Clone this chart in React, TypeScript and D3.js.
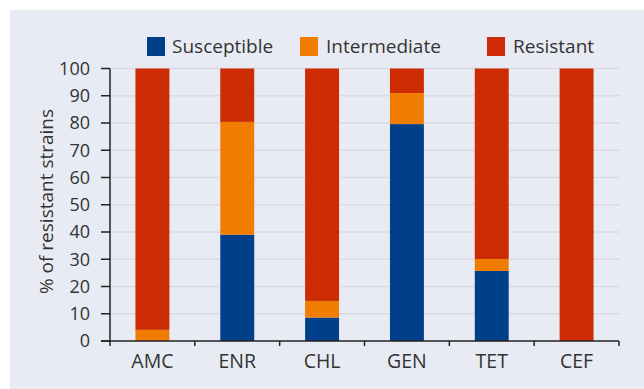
import React from "react";
import * as d3 from "d3";

const categories = ["AMC", "ENR", "CHL", "GEN", "TET", "CEF"];
const susceptible = [0, 39, 8.6, 79.6, 25.7, 0];
const intermediate = [4.1, 41.4, 6.1, 11.4, 4.4, 0];
const resistant = [95.9, 19.6, 85.3, 9.0, 69.9, 100];
const seriesNames = ["Susceptible", "Intermediate", "Resistant"];
const seriesColors = ["#00408a", "#f07c00", "#cc2b03"];
const yTicks = [0, 10, 20, 30, 40, 50, 60, 70, 80, 90, 100];

const W = 644, H = 389;
const left = 110, right = 619, top = 68.5, bottom = 341;
const font = "'Open Sans', sans-serif";
const textColor = "#333333";

export default function App() {
  const x = d3.scaleBand<string>().domain(categories).range([left, right]).paddingInner(0.6).paddingOuter(0.3);
  const y = d3.scaleLinear().domain([0, 100]).range([bottom, top]);
  const rows = categories.map((c, i) => ({ cat: c, Susceptible: susceptible[i], Intermediate: intermediate[i], Resistant: resistant[i] }));
  const stack = d3.stack<any>().keys(seriesNames)(rows);
  const step = (right - left) / categories.length;
  const tickXs = d3.range(categories.length + 1).map((i) => left + i * step);

  const legendItems = [
    { x: 147, tx: 172 },
    { x: 300, tx: 326 },
    { x: 487, tx: 513 },
  ];

  return (
    <svg width={W} height={H} style={{ position: "absolute", left: 0, top: 0, display: "block" }}>
      <rect x={0} y={0} width={W} height={H} fill="#ffffff" />
      <rect x={10} y={10} width={W - 10} height={H - 10} fill="#e9ebf4" />
      {yTicks.filter((t) => t > 0).map((t) => (
        <line key={"g" + t} x1={left} x2={right + 1} y1={y(t)} y2={y(t)} stroke="#d9dae2" strokeWidth={1.5} />
      ))}
      {stack.map((s, si) => (
        <g key={s.key} fill={seriesColors[si]}>
          {s.map((d, i) => (
            d[1] - d[0] > 0 ? (
              <rect key={i} x={x(categories[i])} width={x.bandwidth()} y={y(d[1])} height={y(d[0]) - y(d[1])} />
            ) : null
          ))}
        </g>
      ))}
      {/* y axis */}
      <line x1={left} x2={left} y1={top} y2={bottom} stroke="#222" strokeWidth={1.5} />
      {yTicks.map((t) => (
        <g key={"t" + t}>
          <line x1={left - 9} x2={left} y1={y(t)} y2={y(t)} stroke="#222" strokeWidth={1.5} />
          <text x={90} y={y(t)} dy="0.36em" textAnchor="end" fontFamily={font} fontSize={18} fill={textColor}>{t}</text>
        </g>
      ))}
      {/* x axis */}
      <line x1={left - 9} x2={right} y1={bottom} y2={bottom} stroke="#222" strokeWidth={1.5} />
      {tickXs.map((tx, i) => (
        <line key={"xt" + i} x1={tx} x2={tx} y1={bottom} y2={bottom + 5} stroke="#222" strokeWidth={1.5} />
      ))}
      {categories.map((c) => (
        <text key={c} x={(x(c) as number) + x.bandwidth() / 2} y={368} textAnchor="middle" fontFamily={font} fontSize={19.5} fill={textColor}>{c}</text>
      ))}
      <text transform={`translate(53,201.5) rotate(-90)`} textAnchor="middle" fontFamily={font} fontSize={19} fill={textColor}>% of resistant strains</text>
      {seriesNames.map((n, i) => (
        <g key={n}>
          <rect x={legendItems[i].x} y={37} width={18} height={19} fill={seriesColors[i]} />
          <text x={legendItems[i].tx} y={52.5} fontFamily={font} fontSize={19} fill={textColor}>{n}</text>
        </g>
      ))}
    </svg>
  );
}
